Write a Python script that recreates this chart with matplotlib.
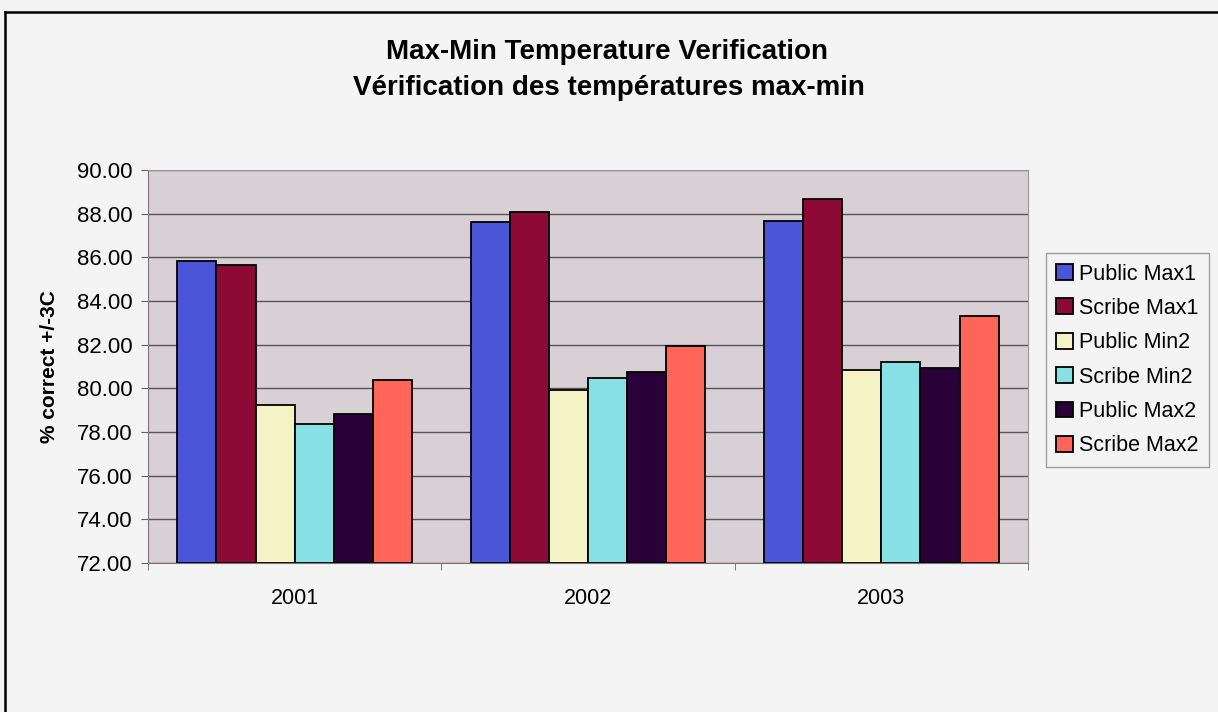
import numpy as np
import matplotlib
matplotlib.use("Agg")
import matplotlib.pyplot as plt

years = ["2001", "2002", "2003"]
series = ["Public Max1", "Scribe Max1", "Public Min2", "Scribe Min2", "Public Max2", "Scribe Max2"]
public_max1 = [85.85, 87.64, 87.66]
scribe_max1 = [85.67, 88.08, 88.67]
public_min2 = [79.22, 79.94, 80.83]
scribe_min2 = [78.38, 80.46, 81.23]
public_max2 = [78.84, 80.77, 80.92]
scribe_max2 = [80.37, 81.95, 83.31]
values = [public_max1, scribe_max1, public_min2, scribe_min2, public_max2, scribe_max2]
colors = ["#4a55d8", "#8c0a35", "#f5f3c6", "#86e0e4", "#2a0038", "#ff6558"]

plt.rcParams['font.family'] = ['Liberation Sans', 'DejaVu Sans']

fig = plt.figure(figsize=(12.18, 7.12), dpi=100)
fig.patch.set_facecolor("#f4f4f4")
# outer chart border (top and left visible in the reference)
fig.add_artist(plt.Line2D([0.004, 0.004], [0.0, 0.983], transform=fig.transFigure,
                          color="black", linewidth=1.8))
fig.add_artist(plt.Line2D([0.004, 1.0], [0.983, 0.983], transform=fig.transFigure,
                          color="black", linewidth=1.8))

ax = fig.add_axes([0.1215, 0.2093, 0.7225, 0.5517])
ax.set_facecolor("#d9d0d6")

x = np.arange(len(years))
w = 0.8 / len(series)
for i, (name, vals) in enumerate(zip(series, values)):
    ax.bar(x - 0.4 + w * (i + 0.5), np.array(vals) - 72, width=w, bottom=72,
           color=colors[i], edgecolor="black", linewidth=1.3, label=name, zorder=3)

ax.set_ylim(72, 90)
ax.set_xlim(-0.5, 2.5)
ax.set_yticks(np.arange(72, 90.1, 2))
ax.set_yticklabels([f"{v:.2f}" for v in np.arange(72, 90.1, 2)], fontsize=16)
ax.set_xticks(x)
ax.set_xticklabels(years, fontsize=15.5)
ax.set_xticks([-0.5, 0.5, 1.5, 2.5], minor=True)
ax.tick_params(axis="x", which="major", length=0, pad=18)
ax.tick_params(axis="x", which="minor", length=5, color="#666666")
ax.tick_params(axis="y", length=5, color="#666666", pad=6)
ax.yaxis.grid(True, color="#555555", linewidth=1.0, zorder=0)
ax.set_axisbelow(True)
for s in ["top", "right"]:
    ax.spines[s].set_color("#999999")
for s in ["left", "bottom"]:
    ax.spines[s].set_color("#777777")

ax.set_ylabel("% correct +/-3C", fontsize=15, fontweight="bold", labelpad=13)

fig.text(0.498, 0.927, "Max-Min Temperature Verification", ha="center", va="center",
         fontsize=20, fontweight="bold")
fig.text(0.5, 0.876, "Vérification des températures max-min", ha="center", va="center",
         fontsize=20, fontweight="bold")

leg = ax.legend(loc="center left", bbox_to_anchor=(1.02, 0.517), fontsize=15.5,
                frameon=True, fancybox=False, edgecolor="#888888", facecolor="#f4f4f4",
                handlelength=0.75, handleheight=0.75, handletextpad=0.3, labelspacing=0.62,
                borderpad=0.5, borderaxespad=0)
leg.get_frame().set_linewidth(1.0)

fig.savefig("out.png", dpi=100, facecolor=fig.get_facecolor())
